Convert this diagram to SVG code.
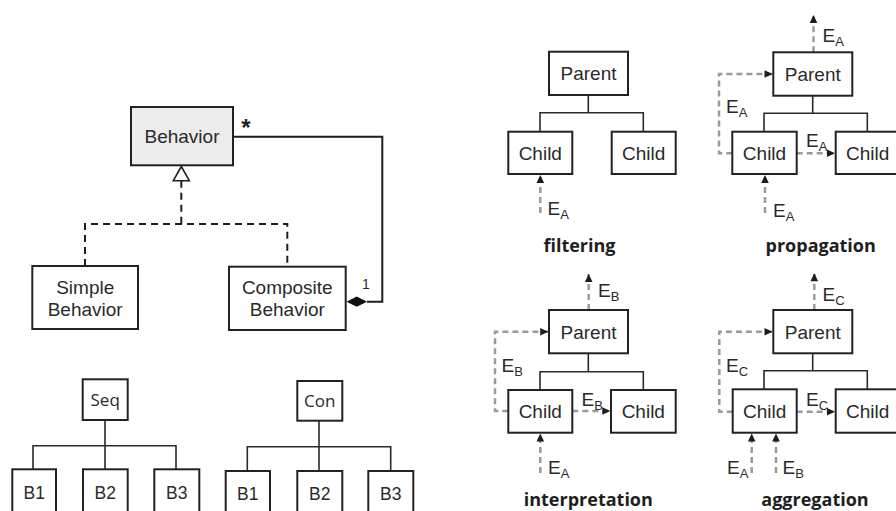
<svg xmlns="http://www.w3.org/2000/svg" width="896" height="511" viewBox="0 0 896 511">
  <defs>
    <marker id="ev" markerUnits="userSpaceOnUse" markerWidth="10" markerHeight="10" viewBox="0 0 10 10" refX="9" refY="5" orient="auto">
      <path d="M1,1.2 L9,5 L1,8.8 Z" fill="#1c1c1c"/>
    </marker>
    <style>
      .box { fill: #ffffff; stroke: #222; stroke-width: 2; }
      .boxg { fill: #ececec; stroke: #222; stroke-width: 2; }
      .t { font-family: "Liberation Sans", Arial, sans-serif; fill: #2a2a2a; text-anchor: middle; }
      .t18 { font-size: 19px; }
      .t17 { font-size: 17.5px; }
      .os { font-family: "Open Sans", "Noto Sans", sans-serif; font-size: 17px; fill: #2a2a2a; text-anchor: middle; }
      .cap { font-family: "Open Sans", "Noto Sans", sans-serif; font-weight: bold; font-size: 18px; fill: #1e1e1e; text-anchor: middle; }
      .ln { fill: none; stroke: #2a2a2a; stroke-width: 1.6; }
      .uml { fill: none; stroke: #1e1e1e; stroke-width: 2; }
      .umld { fill: none; stroke: #1e1e1e; stroke-width: 2; stroke-dasharray: 7 5; }
      .ev { fill: none; stroke: #9a9a9a; stroke-width: 2.5; stroke-dasharray: 6 4; marker-end: url(#ev); }
      .e { font-family: "Liberation Sans", Arial, sans-serif; font-size: 19px; fill: #2a2a2a; }
      .sub { font-size: 13px; }
    </style>
  </defs>

  <!-- UML class diagram -->
  <g id="connectors-uml">
    <path class="uml" d="M233,136.7 H382.3 V301.7 H367"/>
    <path d="M346.5,301.7 L356.8,296.6 L367,301.7 L356.8,306.8 Z" fill="#111"/>
    <path class="umld" d="M181.3,180.7 V224"/>
    <path class="umld" d="M85,266 V224 H287.3 V266.7"/>
    <path d="M181.3,166.5 L189.3,180.7 H173.3 Z" fill="#fff" stroke="#1e1e1e" stroke-width="1.6"/>
    <text x="246" y="136" font-family="Liberation Sans, Arial, sans-serif" font-size="24" font-weight="bold" fill="#1e1e1e" text-anchor="middle">*</text>
    <text x="366" y="289" font-family="Liberation Sans, Arial, sans-serif" font-size="14" fill="#2a2a2a" text-anchor="middle">1</text>
  </g>
  <g id="behavior">
    <rect class="boxg" x="131" y="107" width="102" height="58.3"/>
    <text class="t t18" x="182" y="143">Behavior</text>
  </g>
  <g id="simple-behavior">
    <rect class="box" x="32.3" y="266" width="105.7" height="63"/>
    <text class="t t18" x="85.2" y="294">Simple</text>
    <text class="t t18" x="85.2" y="316">Behavior</text>
  </g>
  <g id="composite-behavior">
    <rect class="box" x="229" y="266.7" width="116.7" height="63.3"/>
    <text class="t t18" x="287.3" y="294">Composite</text>
    <text class="t t18" x="287.3" y="316">Behavior</text>
  </g>

  <!-- Seq tree -->
  <g id="connectors-seq">
    <path class="ln" d="M105,420 V445.7 M33,469.3 V445.7 H176 V469.3 M105,445.7 V469.3"/>
  </g>
  <g id="seq">
    <rect class="box" x="82.7" y="379.3" width="45" height="40.7"/>
    <text class="os" x="105.2" y="406">Seq</text>
  </g>
  <g id="seq-b1">
    <rect class="box" x="12.3" y="469.3" width="43.7" height="50"/>
    <text class="t t17" x="34.2" y="499">B1</text>
  </g>
  <g id="seq-b2">
    <rect class="box" x="83" y="469.3" width="44.7" height="50"/>
    <text class="t t17" x="105.3" y="499">B2</text>
  </g>
  <g id="seq-b3">
    <rect class="box" x="154.3" y="469.3" width="45" height="50"/>
    <text class="t t17" x="176.8" y="499">B3</text>
  </g>

  <!-- Con tree -->
  <g id="connectors-con">
    <path class="ln" d="M319,420.7 V446.7 M247.3,471 V446.7 H390.7 V471 M319,446.7 V471"/>
  </g>
  <g id="con">
    <rect class="box" x="297.3" y="381" width="45" height="39.7"/>
    <text class="os" x="319.8" y="407">Con</text>
  </g>
  <g id="con-b1">
    <rect class="box" x="225.7" y="471" width="44.3" height="50"/>
    <text class="t t17" x="247.8" y="500">B1</text>
  </g>
  <g id="con-b2">
    <rect class="box" x="297.3" y="471" width="45" height="50"/>
    <text class="t t17" x="319.8" y="500">B2</text>
  </g>
  <g id="con-b3">
    <rect class="box" x="368.3" y="471" width="45" height="50"/>
    <text class="t t17" x="390.8" y="500">B3</text>
  </g>

  <!-- filtering -->
  <g id="connectors-filtering">
    <path class="ln" d="M588.3,95 V112.7 M540,131.7 V112.7 H643.3 V131.7"/>
    <path class="ev" d="M540.3,213 V175"/>
    <text class="e" x="547.5" y="215">E<tspan class="sub" dy="4">A</tspan></text>
  </g>
  <g id="filtering-parent">
    <rect class="box" x="549" y="51.7" width="79" height="43.3"/>
    <text class="t t18" x="588.5" y="80">Parent</text>
  </g>
  <g id="filtering-child-1">
    <rect class="box" x="508.3" y="131.7" width="64" height="42.3"/>
    <text class="t t18" x="540.3" y="159.5">Child</text>
  </g>
  <g id="filtering-child-2">
    <rect class="box" x="611.7" y="131.7" width="64" height="42.3"/>
    <text class="t t18" x="643.7" y="159.5">Child</text>
  </g>
  <text class="cap" x="579.5" y="252">filtering</text>

  <!-- propagation -->
  <g id="connectors-propagation">
    <path class="ln" d="M812.7,95.7 V113.3 M764,131.7 V113.3 H867.3 V131.7"/>
    <path class="ev" d="M813.5,52.3 V15"/>
    <path class="ev" d="M732.3,153.3 H719 V74 H772.5"/>
    <path class="ev" d="M796.7,153.3 H835"/>
    <path class="ev" d="M765,213 V175"/>
    <text class="e" x="822.5" y="41.5">E<tspan class="sub" dy="4">A</tspan></text>
    <text class="e" x="726" y="113">E<tspan class="sub" dy="4">A</tspan></text>
    <text class="e" x="806" y="146.5">E<tspan class="sub" dy="4">A</tspan></text>
    <text class="e" x="773" y="216.5">E<tspan class="sub" dy="4">A</tspan></text>
  </g>
  <g id="propagation-parent">
    <rect class="box" x="773.3" y="52.3" width="79" height="43.4"/>
    <text class="t t18" x="812.8" y="80.5">Parent</text>
  </g>
  <g id="propagation-child-1">
    <rect class="box" x="732.3" y="131.7" width="64.4" height="42.3"/>
    <text class="t t18" x="764.5" y="159.5">Child</text>
  </g>
  <g id="propagation-child-2">
    <rect class="box" x="835.7" y="131.7" width="64" height="42.3"/>
    <text class="t t18" x="867.7" y="159.5">Child</text>
  </g>
  <text class="cap" x="820.7" y="252">propagation</text>

  <!-- interpretation -->
  <g id="connectors-interpretation">
    <path class="ln" d="M588.3,353.3 V371.7 M540,390 V371.7 H643.3 V390"/>
    <path class="ev" d="M588.7,310 V274"/>
    <path class="ev" d="M508.3,411 H495 V331.7 H548.2"/>
    <path class="ev" d="M572.3,411 H610.3"/>
    <path class="ev" d="M540.3,473 V433.5"/>
    <text class="e" x="598" y="297">E<tspan class="sub" dy="4">B</tspan></text>
    <text class="e" x="501.5" y="371.5">E<tspan class="sub" dy="4">B</tspan></text>
    <text class="e" x="581.5" y="406">E<tspan class="sub" dy="4">B</tspan></text>
    <text class="e" x="548" y="473.5">E<tspan class="sub" dy="4">A</tspan></text>
  </g>
  <g id="interpretation-parent">
    <rect class="box" x="549" y="310" width="79" height="43.3"/>
    <text class="t t18" x="588.5" y="338.5">Parent</text>
  </g>
  <g id="interpretation-child-1">
    <rect class="box" x="508.3" y="390" width="64" height="42.7"/>
    <text class="t t18" x="540.3" y="418">Child</text>
  </g>
  <g id="interpretation-child-2">
    <rect class="box" x="611" y="390" width="64.7" height="42.7"/>
    <text class="t t18" x="643.3" y="418">Child</text>
  </g>
  <text class="cap" x="588.3" y="506">interpretation</text>

  <!-- aggregation -->
  <g id="connectors-aggregation">
    <path class="ln" d="M812.7,353.3 V370.7 M764,389.3 V370.7 H867.3 V389.3"/>
    <path class="ev" d="M814.3,310 V273.3"/>
    <path class="ev" d="M732.7,411.7 H719.3 V331.7 H772.5"/>
    <path class="ev" d="M796.7,411.7 H835"/>
    <path class="ev" d="M751.7,473 V433.5"/>
    <path class="ev" d="M776,473 V433.5"/>
    <text class="e" x="822.5" y="300.5">E<tspan class="sub" dy="4">C</tspan></text>
    <text class="e" x="726" y="371.5">E<tspan class="sub" dy="4">C</tspan></text>
    <text class="e" x="806" y="406">E<tspan class="sub" dy="4">C</tspan></text>
    <text class="e" x="727" y="473.5">E<tspan class="sub" dy="4">A</tspan></text>
    <text class="e" x="782.5" y="473.5">E<tspan class="sub" dy="4">B</tspan></text>
  </g>
  <g id="aggregation-parent">
    <rect class="box" x="773.3" y="310" width="79" height="43.3"/>
    <text class="t t18" x="812.8" y="338.5">Parent</text>
  </g>
  <g id="aggregation-child-1">
    <rect class="box" x="732.7" y="389.3" width="64" height="43.4"/>
    <text class="t t18" x="764.7" y="417.5">Child</text>
  </g>
  <g id="aggregation-child-2">
    <rect class="box" x="835.7" y="389.3" width="64" height="43.4"/>
    <text class="t t18" x="867.7" y="417.5">Child</text>
  </g>
  <text class="cap" x="815" y="506">aggregation</text>
</svg>
